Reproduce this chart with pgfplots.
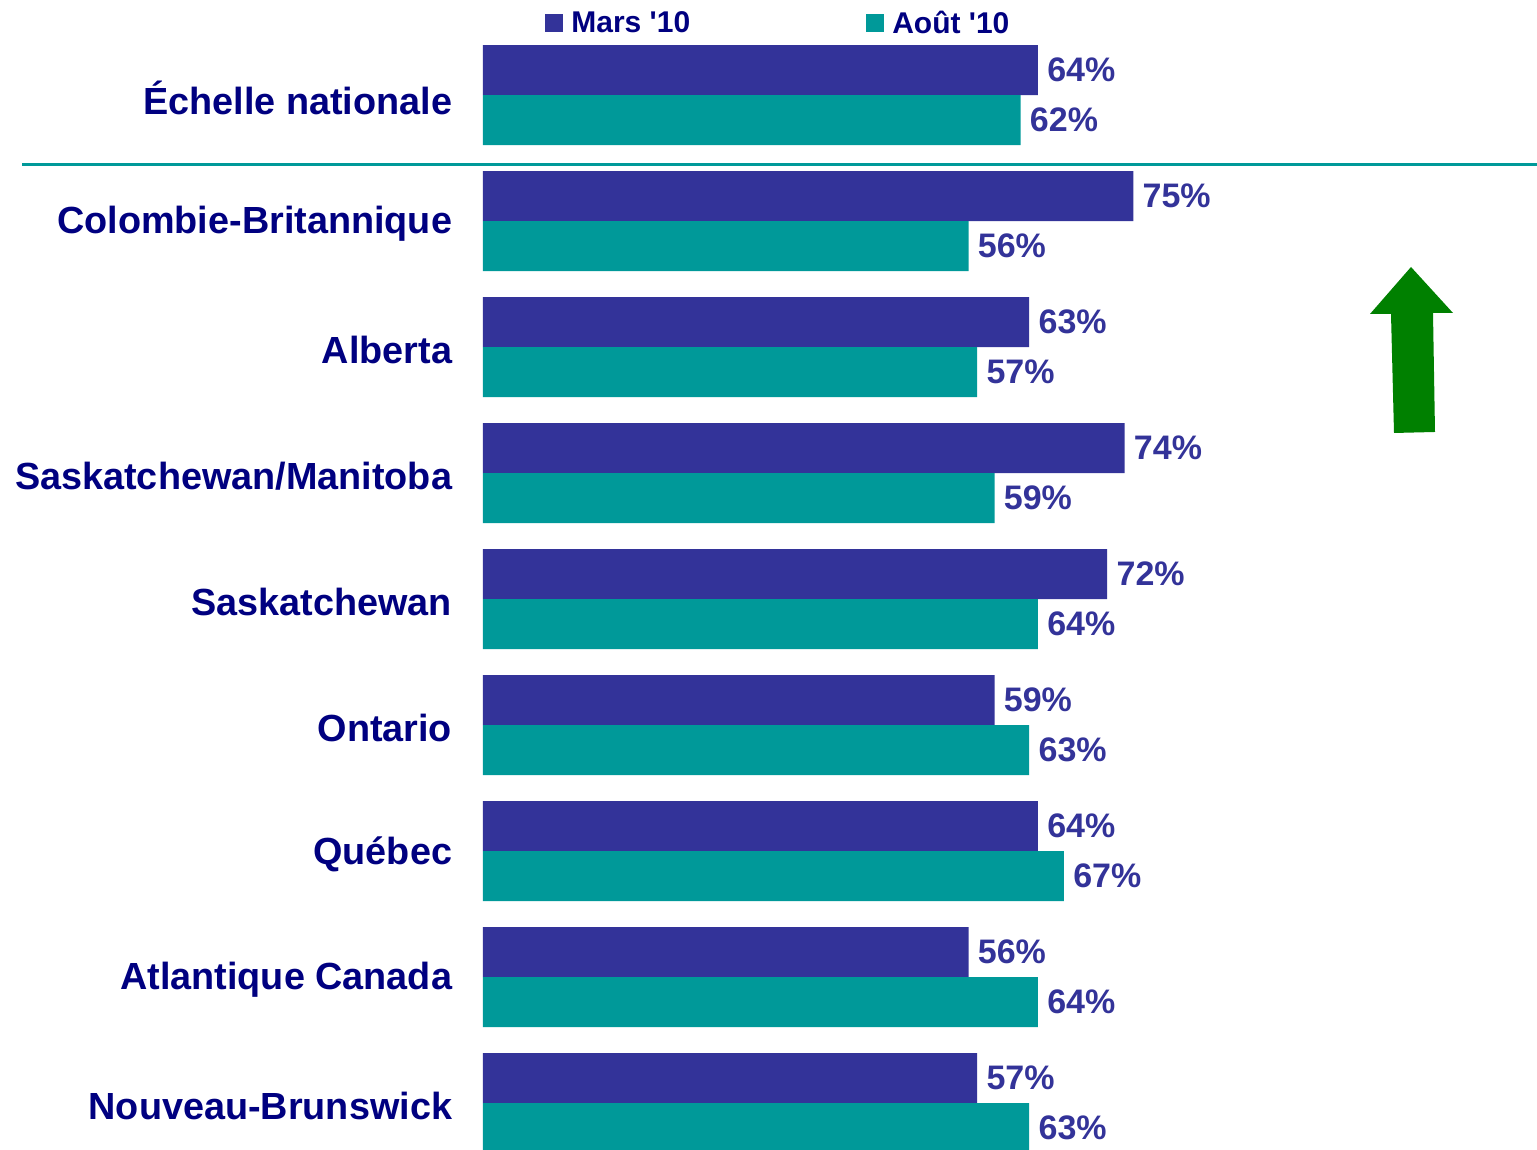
\documentclass[border=0pt]{standalone}
\usepackage{fontspec}
\setmainfont{Liberation Sans}
\usepackage{pgfplots}
\pgfplotsset{compat=1.18}
\definecolor{mars}{HTML}{333399}
\definecolor{aout}{HTML}{009999}
\definecolor{navy}{HTML}{000080}
\definecolor{arrowgreen}{HTML}{008000}
\begin{document}
\begin{tikzpicture}
\begin{axis}[
  at={(241.5pt,-8pt)}, anchor=south west,
  scale only axis, width=433.5pt, height=567pt,
  xmin=0, xmax=100, ymin=-0.5, ymax=8.5, y dir=reverse,
  xbar=0pt, bar width=25pt,
  axis line style={draw=none}, tick style={draw=none},
  xtick=\empty, ytick={0,...,8},
  yticklabels={\'Echelle nationale,Colombie-Britannique,Alberta,Saskatchewan/Manitoba,Saskatchewan,Ontario,Qu\'ebec,Atlantique Canada,Nouveau-Brunswick},
  yticklabel style={font=\bfseries\fontsize{18.9}{20}\selectfont, text=navy, anchor=east, inner sep=0pt, xshift=-11pt, yshift=-1.5pt},
  nodes near coords={\pgfplotspointmeta\%},
  point meta=explicit symbolic,
  nodes near coords style={font=\bfseries\fontsize{17}{18}\selectfont, text=mars, inner sep=0pt, anchor=west, xshift=4.5pt},
  clip=false,
  legend columns=2,
  legend style={at={(0.0715,1.0075)}, anchor=west, draw=none, fill=none, inner sep=0pt,
    font=\bfseries\fontsize{15}{16}\selectfont, text=navy, nodes={inner sep=0pt},
    /tikz/every odd column/.style={column sep=4pt},
    /tikz/every even column/.style={column sep=88pt}},
  legend image code/.code={\fill[#1] (0pt,-4.5pt) rectangle (9pt,4.5pt);},
]
\addplot[fill=mars, draw=none, bar shift=12.5pt] table[x=v, y=i, meta=v] {
i v
0 64
1 75
2 63
3 74
4 72
5 59
6 64
7 56
8 57
};
\addplot[fill=aout, draw=none, bar shift=-12.5pt] table[x=v, y=i, meta=v] {
i v
0 62
1 56
2 57
3 59
4 64
5 63
6 67
7 64
8 63
};
\legend{Mars \textquotesingle 10, Ao\^ut \textquotesingle 10}
\end{axis}
\draw[aout, line width=1.5pt] (11pt,492.5pt) -- (768.5pt,492.5pt);
\fill[arrowgreen] (705.5pt,441.5pt) -- (726.5pt,418.5pt) -- (716.5pt,418.5pt) -- (717.5pt,359pt) -- (697pt,358.5pt) -- (695.5pt,418pt) -- (685pt,418pt) -- cycle;
\pgfresetboundingbox
\path[use as bounding box] (0,0) rectangle (768.5pt,575pt);
\end{tikzpicture}
\end{document}
